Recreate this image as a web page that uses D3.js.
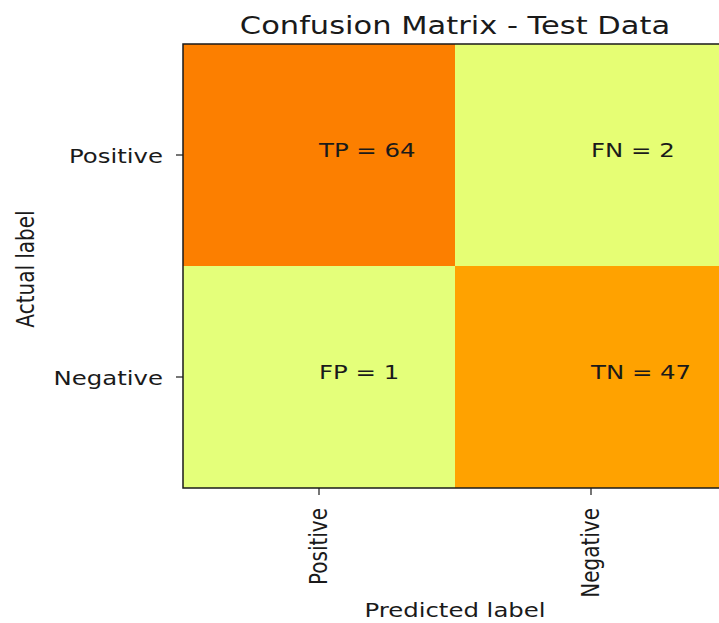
<!DOCTYPE html>
<html lang="en">
<head>
    <meta charset="UTF-8">
    <title>Confusion Matrix - Test Data</title>
    <script src="https://d3js.org/d3.v7.min.js"></script>
    <style>
        body { margin: 0; background: #fff; }
        svg { display: block; font-family: "DejaVu Sans", sans-serif; }
    </style>
</head>
<body>
    <div id="chart"></div>
    <script>
        // chart data
        const predictedLabels = ["Positive", "Negative"];
        const actualLabels = ["Positive", "Negative"];
        const cellCodes = [["TP", "FN"], ["FP", "TN"]];
        const counts = [[64, 2], [1, 47]];
        const titleText = "Confusion Matrix - Test Data";

        // matplotlib "Wistia" colormap stops
        const wistia = ["#e4ff7a", "#ffe81a", "#ffbd00", "#ffa000", "#fc7f00"];

        const width = 719, height = 623;
        const plotLeft = 183, plotRight = 727, plotTop = 44, plotBottom = 488;
        const sx = 1.22;   // the reference is stretched horizontally
        const ink = "#1a1a1a";

        const svg = d3.select("#chart").append("svg")
            .attr("width", width)
            .attr("height", height);

        const x = d3.scaleBand().domain(predictedLabels).range([plotLeft, plotRight]);
        const y = d3.scaleBand().domain(actualLabels).range([plotTop, plotBottom]);

        const flat = counts.flat();
        const vmin = d3.min(flat), vmax = d3.max(flat);
        const color = d3.scaleLinear()
            .domain(wistia.map((_, i) => vmin + i * (vmax - vmin) / (wistia.length - 1)))
            .range(wistia);

        // cells
        const cells = [];
        actualLabels.forEach((a, i) => {
            predictedLabels.forEach((p, j) => {
                cells.push({ actual: a, predicted: p, code: cellCodes[i][j], value: counts[i][j] });
            });
        });

        svg.append("g").selectAll("rect")
            .data(cells)
            .join("rect")
            .attr("x", d => x(d.predicted))
            .attr("y", d => y(d.actual))
            .attr("width", x.bandwidth())
            .attr("height", y.bandwidth())
            .attr("fill", d => color(d.value));

        // annotations: left aligned at cell centre, baseline at cell centre
        svg.append("g").selectAll("text")
            .data(cells)
            .join("text")
            .attr("transform", d => `translate(${x(d.predicted) + x.bandwidth() / 2},${y(d.actual) + y.bandwidth() / 2 + 2}) scale(${sx},1)`)
            .attr("font-size", 20)
            .attr("fill", ink)
            .text(d => `${d.code} = ${d.value}`);

        // frame
        svg.append("rect")
            .attr("x", plotLeft).attr("y", plotTop)
            .attr("width", plotRight - plotLeft).attr("height", plotBottom - plotTop)
            .attr("fill", "none")
            .attr("stroke", ink)
            .attr("stroke-width", 1.5);

        // y axis
        const yAxis = svg.append("g")
            .attr("transform", `translate(${plotLeft},0)`)
            .call(d3.axisLeft(y).tickSize(7).tickPadding(0));
        yAxis.select(".domain").remove();
        yAxis.selectAll(".tick line").attr("stroke", ink).attr("stroke-width", 1.2);
        yAxis.selectAll(".tick text")
            .attr("x", null).attr("dy", null)
            .attr("transform", `translate(-20,8) scale(${sx},1)`)
            .attr("font-size", 20)
            .attr("font-family", "DejaVu Sans, sans-serif")
            .attr("fill", ink);

        // x axis
        const xAxis = svg.append("g")
            .attr("transform", `translate(0,${plotBottom})`)
            .call(d3.axisBottom(x).tickSize(7).tickPadding(0));
        xAxis.select(".domain").remove();
        xAxis.selectAll(".tick line").attr("stroke", ink).attr("stroke-width", 1.2);
        xAxis.selectAll(".tick text")
            .attr("y", null).attr("dy", null)
            .attr("text-anchor", "end")
            .attr("transform", `translate(8,20) scale(${sx},1) rotate(-90)`)
            .attr("font-size", 20)
            .attr("font-family", "DejaVu Sans, sans-serif")
            .attr("fill", ink);

        // title
        svg.append("text")
            .attr("transform", `translate(${(plotLeft + plotRight) / 2},34) scale(${sx},1)`)
            .attr("text-anchor", "middle")
            .attr("font-size", 25)
            .attr("fill", ink)
            .text(titleText);

        // axis titles
        svg.append("text")
            .attr("transform", `translate(${(plotLeft + plotRight) / 2},617) scale(${sx},1)`)
            .attr("text-anchor", "middle")
            .attr("font-size", 20)
            .attr("fill", ink)
            .text("Predicted label");

        svg.append("text")
            .attr("transform", `translate(34,${(plotTop + plotBottom) / 2 + 3}) scale(${sx},1) rotate(-90)`)
            .attr("text-anchor", "middle")
            .attr("font-size", 20)
            .attr("fill", ink)
            .text("Actual label");
    </script>
</body>
</html>
